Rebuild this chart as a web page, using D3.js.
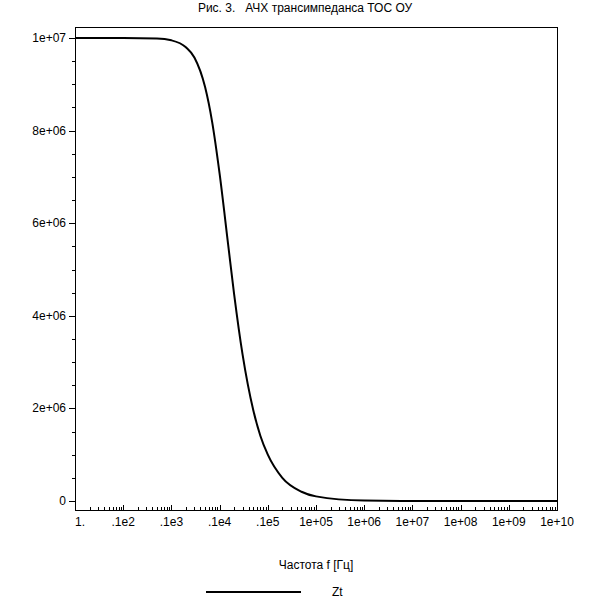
<!DOCTYPE html>
<html><head><meta charset="utf-8">
<script src="https://cdn.jsdelivr.net/npm/d3@7"></script>
<style>body{margin:0;background:#fff}text{font-family:"Liberation Sans",Arial,sans-serif;font-size:12px;fill:#000}</style>
</head><body><svg id="chart" width="610" height="610"></svg>
<script>
// values
const freq = [1, 10, 50, 100, 200, 300, 500, 700, 1000, 1500, 2000, 3000, 5000, 7000, 1e4, 2e4, 5e4, 1e5, 1e6, 1e7, 1e10]
const zt = [1e7, 1e7, 9.99e6, 9.95e6, 9.8e6, 9.58e6, 8.94e6, 8.19e6, 7.07e6, 5.55e6, 4.47e6, 3.16e6, 1.96e6, 1.41e6, 1.0e6, 5e5, 2e5, 1e5, 1e4, 1e3, 0]
const xTicks = [1, 10, 100, 1e3, 1e4, 1e5, 1e6, 1e7, 1e8, 1e9, 1e10]
const xLabels = ["1.", ".1e2", ".1e3", ".1e4", ".1e5", "1e+05", "1e+06", "1e+07", "1e+08", "1e+09", "1e+10"]
const yTicks = [0, 2e6, 4e6, 6e6, 8e6, 1e7]
const yLabels = ["0", "2e+06", "4e+06", "6e+06", "8e+06", "1e+07"]

const svg = d3.select("#chart")
const x = d3.scaleLog().domain([1, 1e10]).range([75, 557])
const y = d3.scaleLinear().domain([0, 1e7]).range([501, 38])

// frame
svg.append("rect").attr("x", 75.5).attr("y", 27.5).attr("width", 482).attr("height", 483)
  .attr("fill", "none").attr("stroke", "#000")

// x ticks (inside, upward)
var minors = []
for (var d = 0; d < 10; d++) for (var k = 2; k < 10; k++) minors.push(k * Math.pow(10, d))
minors.forEach(function (v) {
  svg.append("line").attr("x1", Math.round(x(v)) + .5).attr("x2", Math.round(x(v)) + .5)
    .attr("y1", 510).attr("y2", 507).attr("stroke", "#000")
})
xTicks.forEach(function (v, i) {
  svg.append("line").attr("x1", Math.round(x(v)) + .5).attr("x2", Math.round(x(v)) + .5)
    .attr("y1", 510).attr("y2", 505).attr("stroke", "#000")
  svg.append("text").attr("x", x(v) + (i == 0 ? 0 : 0)).attr("y", 526)
    .attr("text-anchor", i == 0 ? "start" : "middle").text(xLabels[i])
})

// y ticks (outside, left)
for (var v = 0; v <= 1e7; v += 5e5) {
  var major = v % 2e6 == 0
  svg.append("line").attr("x1", major ? 69 : 72).attr("x2", 75)
    .attr("y1", Math.round(y(v)) + .5).attr("y2", Math.round(y(v)) + .5).attr("stroke", "#000")
}
yTicks.forEach(function (v, i) {
  svg.append("text").attr("x", 66).attr("y", y(v) + 4).attr("text-anchor", "end").text(yLabels[i])
})

// curve
const line = d3.line().x(function (d, i) { return x(d) }).y(function (d, i) { return y(zt[i]) })
  .curve(d3.curveMonotoneX)
svg.append("path").attr("d", line(freq)).attr("fill", "none").attr("stroke", "#000").attr("stroke-width", 2)

// texts
svg.append("text").attr("x", 305).attr("y", 12).attr("text-anchor", "middle")
  .attr("xml:space", "preserve").text("Рис. 3.   АЧХ трансимпеданса ТОС ОУ")
svg.append("text").attr("x", 316).attr("y", 569).attr("text-anchor", "middle").text("Частота f [Гц]")
svg.append("line").attr("x1", 206).attr("x2", 301).attr("y1", 592).attr("y2", 592)
  .attr("stroke", "#000").attr("stroke-width", 2)
svg.append("text").attr("x", 332).attr("y", 596).text("Zt")
</script></body></html>
